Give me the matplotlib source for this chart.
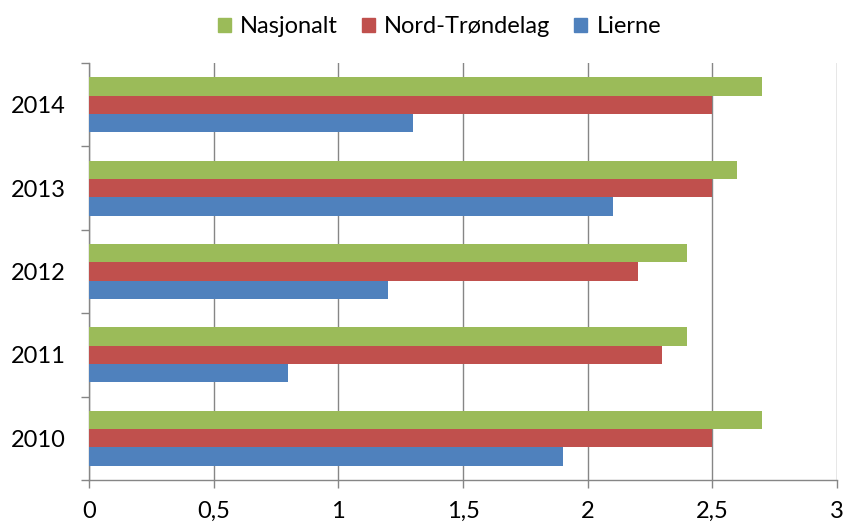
import matplotlib
matplotlib.use("Agg")
import matplotlib.pyplot as plt
from matplotlib.patches import Patch
import numpy as np

years = ["2010", "2011", "2012", "2013", "2014"]
series_names = ["Nasjonalt", "Nord-Trøndelag", "Lierne"]
nasjonalt = [2.7, 2.4, 2.4, 2.6, 2.7]
nord_trondelag = [2.5, 2.3, 2.2, 2.5, 2.5]
lierne = [1.9, 0.8, 1.2, 2.1, 1.3]
xticks = [0, 0.5, 1, 1.5, 2, 2.5, 3]
xticklabels = ["0", "0,5", "1", "1,5", "2", "2,5", "3"]

colors = ["#9BBB59", "#C0504D", "#4F81BD"]
grid_c = "#868686"

plt.rcParams['font.family'] = ['Lato', 'DejaVu Sans']
fs = 17

fig = plt.figure(figsize=(8.45, 5.26), dpi=100)
ax = fig.add_axes([89/845, 1-480/526, (837-89)/845, (480-63)/526])

y = np.arange(len(years))
w = 0.22
ax.barh(y + w, nasjonalt, height=w, color=colors[0], zorder=3)
ax.barh(y, nord_trondelag, height=w, color=colors[1], zorder=3)
ax.barh(y - w, lierne, height=w, color=colors[2], zorder=3)

ax.set_xlim(0, 3)
ax.set_ylim(-0.5, len(years) - 0.5)
ax.set_xticks(xticks)
ax.set_xticklabels(xticklabels, fontsize=fs)
ax.tick_params(axis='x', length=6, color=grid_c, width=1, pad=9)
ax.set_yticks(np.arange(-0.5, len(years), 1.0))
ax.set_yticklabels([])
ax.tick_params(axis='y', which='major', length=6, color=grid_c, width=1)
ax.set_yticks(y, minor=True)
ax.set_yticklabels(years, minor=True, fontsize=fs)
ax.tick_params(axis='y', which='minor', length=0, pad=17)

ax.grid(axis='x', color=grid_c, linewidth=1, zorder=0)
for s in ['top', 'right']:
    ax.spines[s].set_visible(False)
for s in ['left', 'bottom']:
    ax.spines[s].set_color(grid_c)
    ax.spines[s].set_linewidth(1)

handles = [Patch(color=c) for c in colors]
fig.legend(handles, series_names, loc='upper center', bbox_to_anchor=(0.52, 1.01),
           ncol=3, frameon=False, fontsize=fs, handlelength=0.55, handleheight=0.55,
           handletextpad=0.4, columnspacing=1.0)

fig.savefig("out.png", dpi=100)
